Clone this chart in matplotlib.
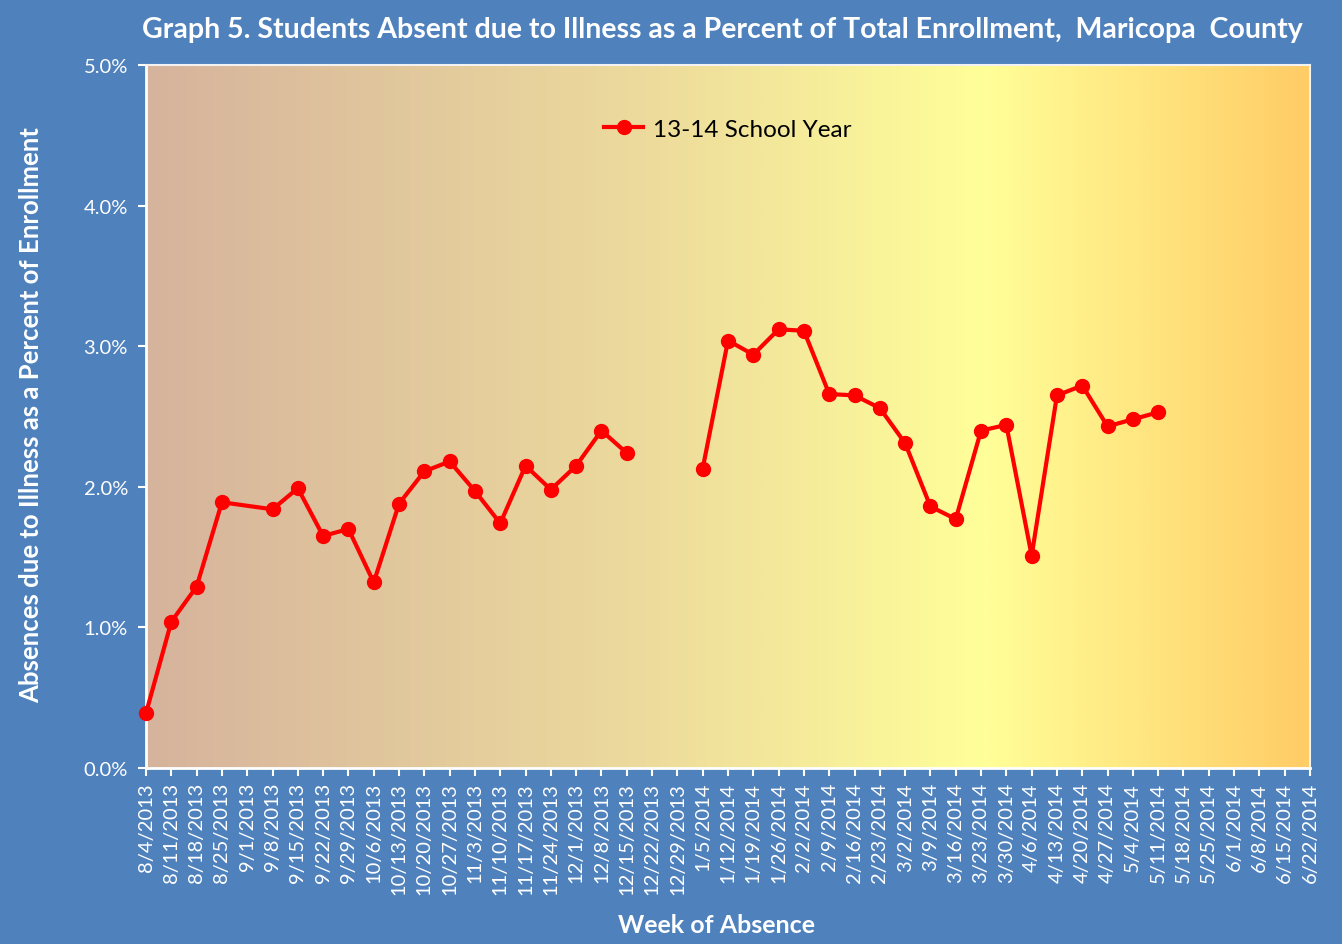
import matplotlib.pyplot as plt
import numpy as np
from matplotlib.colors import LinearSegmentedColormap

plt.rcParams['font.family'] = ['Lato', 'DejaVu Sans']

weeks = ["8/4/2013", "8/11/2013", "8/18/2013", "8/25/2013", "9/1/2013", "9/8/2013",
         "9/15/2013", "9/22/2013", "9/29/2013", "10/6/2013", "10/13/2013", "10/20/2013",
         "10/27/2013", "11/3/2013", "11/10/2013", "11/17/2013", "11/24/2013", "12/1/2013",
         "12/8/2013", "12/15/2013", "12/22/2013", "12/29/2013", "1/5/2014", "1/12/2014",
         "1/19/2014", "1/26/2014", "2/2/2014", "2/9/2014", "2/16/2014", "2/23/2014",
         "3/2/2014", "3/9/2014", "3/16/2014", "3/23/2014", "3/30/2014", "4/6/2014",
         "4/13/2014", "4/20/2014", "4/27/2014", "5/4/2014", "5/11/2014", "5/18/2014",
         "5/25/2014", "6/1/2014", "6/8/2014", "6/15/2014", "6/22/2014"]

# percent absent; None = no report that week
fall = [0.39, 1.04, 1.29, 1.89, None, 1.84, 1.99, 1.65, 1.70, 1.32, 1.88, 2.11,
        2.18, 1.97, 1.74, 2.15, 1.98, 2.15, 2.40, 2.24]
spring = [2.13, 3.04, 2.94, 3.12, 3.11, 2.66, 2.65, 2.56, 2.31, 1.86, 1.77, 2.40,
          2.44, 1.51, 2.65, 2.72, 2.43, 2.48, 2.53]
spring_start = weeks.index("1/5/2014")

blue = "#4F81BD"
fig = plt.figure(figsize=(13.42, 9.45), dpi=100, facecolor=blue)
ax = fig.add_axes([146 / 1342, 1 - 769 / 945, (1310 - 146) / 1342, (769 - 66) / 945])

# gradient plot area
cmap = LinearSegmentedColormap.from_list(
    "bg", [(0.0, "#D6B39D"), (0.45, "#EEDD9C"), (0.72, "#FFFF99"), (1.0, "#FFCC66")])
grad = np.linspace(0, 1, 512).reshape(1, -1)
ax.imshow(grad, cmap=cmap, aspect="auto", extent=[0, 1, 0, 1],
          transform=ax.transAxes, zorder=0)

# fall segment (line drawn through blank week, no marker there)
fx = [i for i, v in enumerate(fall) if v is not None]
fy = [v / 100 for v in fall if v is not None]
sx = [spring_start + i for i in range(len(spring))]
sy = [v / 100 for v in spring]

ax.plot(fx, fy, color="red", lw=3, marker="o", ms=10, zorder=3, clip_on=False,
        label="13-14 School Year")
ax.plot(sx, sy, color="red", lw=3, marker="o", ms=10, zorder=3, clip_on=False)

ax.set_xlim(0, len(weeks) - 1)
ax.set_ylim(0, 0.05)
ax.set_xticks(range(len(weeks)))
ax.set_xticklabels(weeks, rotation=90, fontsize=14.5, color="white")
ax.set_yticks(np.arange(0, 0.051, 0.01))
ax.set_yticklabels([f"{t:.1f}%" for t in np.arange(0, 5.1, 1)], fontsize=14.5, color="white")
ax.tick_params(axis="both", direction="out", color="white", length=6, width=1.5)
ax.tick_params(axis="x", pad=4)
ax.tick_params(axis="y", pad=7)

for side in ["left", "bottom"]:
    ax.spines[side].set_color("white")
    ax.spines[side].set_linewidth(2)
for side in ["top", "right"]:
    ax.spines[side].set_color("#F2F2F2")
    ax.spines[side].set_linewidth(1.5)

fig.text(31 / 1342, 1 - 415 / 945, "Absences due to Illness as a Percent of Enrollment",
         rotation=90, ha="center", va="center", fontsize=18.5, fontweight="bold",
         color="white")
fig.text(716 / 1342, 1 - 926 / 945, "Week of Absence", ha="center", va="center",
         fontsize=18, fontweight="bold", color="white")
fig.text(0.538, 0.968, "Graph 5. Students Absent due to Illness as a Percent of Total Enrollment,  Maricopa  County",
         ha="center", va="center", fontsize=20.5, fontweight="bold", color="white")

ax.legend(loc="upper center", bbox_to_anchor=(0.5, 0.955), frameon=False,
          fontsize=17.5, handlelength=1.6, handletextpad=0.4)

fig.savefig("out.png", dpi=100, facecolor=blue)
